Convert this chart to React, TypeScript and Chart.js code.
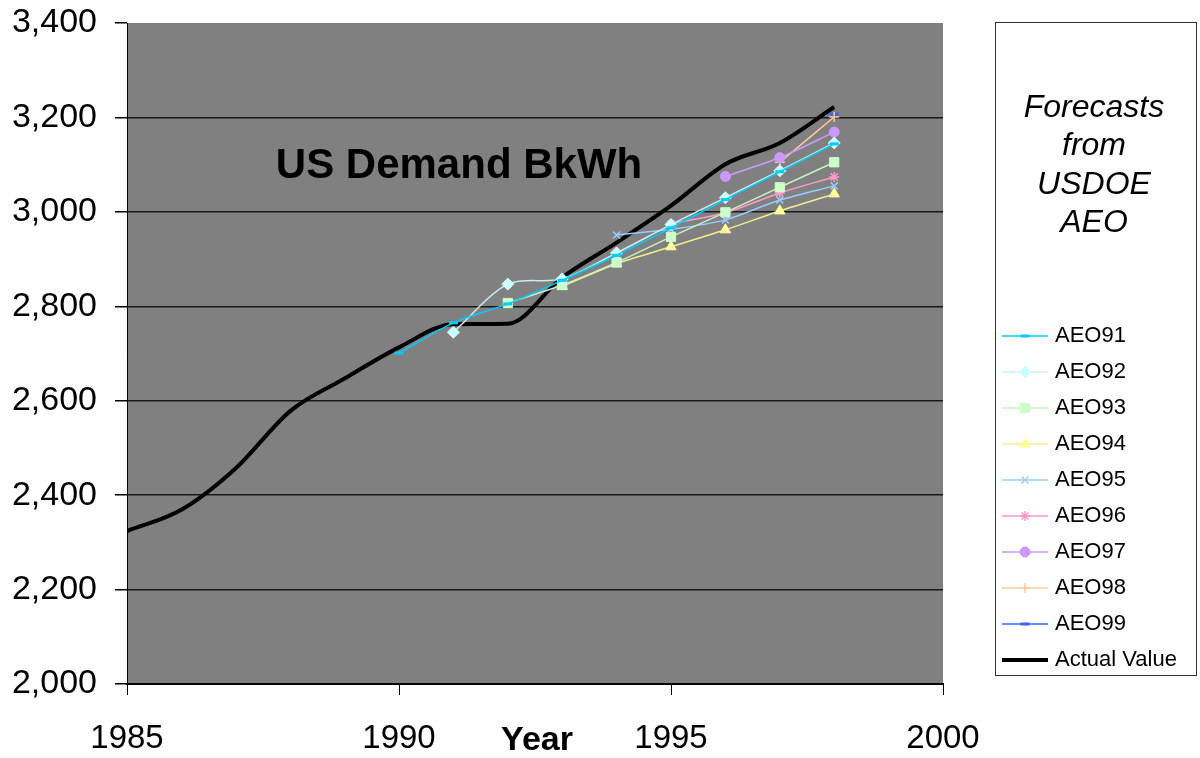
import React, { useEffect, useRef } from 'react';
import { Chart, registerables } from 'chart.js';
import { drawPoint } from 'chart.js/helpers';

Chart.register(...registerables);

const FONT = 'Arial, "Liberation Sans", sans-serif';

// ---- data ----
const actualYears = [1985, 1986, 1987, 1988, 1989, 1990, 1991, 1992, 1993, 1994, 1995, 1996, 1997, 1998];
const actualValues = [2324, 2369, 2457, 2578, 2647, 2713, 2762, 2763, 2861, 2935, 3013, 3101, 3146, 3222];

const forecastYears = [1990, 1991, 1992, 1993, 1994, 1995, 1996, 1997, 1998];
const aeo91 = [2701, 2765, 2805, 2855, 2908, 2966, 3026, 3085, 3144];
const aeo92 = [null, 2745, 2847, 2858, 2913, 2973, 3030, 3087, 3146];
const aeo93 = [null, null, 2807, 2845, 2893, 2947, 2999, 3052, 3105];
const aeo94 = [null, null, null, 2842, 2890, 2926, 2962, 3002, 3038];
const aeo95 = [null, null, null, null, 2951, 2963, 2983, 3025, 3055];
const aeo96 = [null, null, null, null, null, 2975, 2998, 3040, 3074];
const aeo97 = [null, null, null, null, null, null, 3075, 3115, 3169];
const aeo98 = [null, null, null, null, null, null, null, 3105, 3201];
const aeo99 = [null, null, null, null, null, null, null, null, 3207];

const seriesNames = ['AEO91', 'AEO92', 'AEO93', 'AEO94', 'AEO95', 'AEO96', 'AEO97', 'AEO98', 'AEO99'];
const seriesValues = [aeo91, aeo92, aeo93, aeo94, aeo95, aeo96, aeo97, aeo98, aeo99];
const actualLabel = 'Actual Value';

const yMin = 2000;
const yMax = 3400;
const yStep = 200;
const xMin = 1985;
const xMax = 2000;
const xStep = 5;

const chartTitle = 'US Demand BkWh';
const xAxisTitle = 'Year';
const legendTitleLines = ['Forecasts', 'from', 'USDOE', 'AEO'];

// ---- styles ----
const seriesColors = ['#00CCFF', '#CCFFFF', '#CCFFCC', '#FFFF99', '#99CCFF', '#FF99CC', '#CC99FF', '#FFCC99', '#3366FF'];
const seriesLineColors = ['#00CCFF', '#C8F0F0', '#C8F0C0', '#F0F090', '#99CCFF', '#FF99CC', '#CC99FF', '#FFCC99', '#3366FF'];
const seriesPointStyles = ['line', 'rectRot', 'rect', 'triangle', 'crossRot', 'star', 'circle', 'cross', 'line'];
const seriesPointRadius = [4.5, 6, 6.5, 6, 5, 5, 5, 5, 4.5];
const seriesPointBorder = [3, 1, 1, 1, 1.5, 1.5, 1, 1.5, 3];

const bgPlugin = {
  id: 'bgPlugin',
  beforeDraw(chart: any) {
    const { ctx, chartArea } = chart;
    ctx.save();
    ctx.fillStyle = '#ffffff';
    ctx.fillRect(0, 0, chart.width, chart.height);
    ctx.fillStyle = '#808080';
    ctx.fillRect(chartArea.left, chartArea.top, chartArea.right - chartArea.left, chartArea.bottom - chartArea.top);
    ctx.restore();
  },
};

const annotationPlugin = {
  id: 'annotationPlugin',
  afterDraw(chart: any) {
    const { ctx, chartArea } = chart;
    ctx.save();
    // chart title inside plot
    ctx.fillStyle = '#000';
    ctx.font = `bold 42px ${FONT}`;
    ctx.textAlign = 'center';
    ctx.textBaseline = 'alphabetic';
    ctx.fillText(chartTitle, 459, 178);

    // x axis title
    ctx.font = `bold 34px ${FONT}`;
    ctx.fillText(xAxisTitle, (chartArea.left + chartArea.right) / 2 + 2, 750);

    // legend box
    const bx = 995.5, by = 22.5, bw = 201, bh = 653;
    ctx.fillStyle = '#ffffff';
    ctx.fillRect(bx, by, bw, bh);
    ctx.strokeStyle = '#333333';
    ctx.lineWidth = 1;
    ctx.strokeRect(bx, by, bw, bh);

    ctx.fillStyle = '#000';
    ctx.font = `italic 32px ${FONT}`;
    ctx.textAlign = 'center';
    ctx.textBaseline = 'middle';
    legendTitleLines.forEach((t, i) => ctx.fillText(t, 1094, 108 + i * 38.5));

    chart.data.datasets.forEach((ds: any, i: number) => {
      const y = 336 + i * 36;
      ctx.strokeStyle = ds.borderColor;
      ctx.lineWidth = ds.borderWidth;
      ctx.beginPath();
      ctx.moveTo(1002, y);
      ctx.lineTo(1048, y);
      ctx.stroke();
      if (ds.pointRadius > 0) {
        ctx.fillStyle = ds.pointBackgroundColor;
        ctx.strokeStyle = ds.pointBorderColor;
        ctx.lineWidth = ds.pointBorderWidth;
        drawPoint(ctx, { pointStyle: ds.pointStyle, rotation: 0, radius: ds.pointRadius, borderWidth: ds.pointBorderWidth } as any, 1025, y);
      }
      ctx.fillStyle = '#000';
      ctx.font = `22px ${FONT}`;
      ctx.textAlign = 'left';
      ctx.textBaseline = 'middle';
      ctx.fillText(ds.label, 1055, y);
    });
    ctx.restore();
  },
};

export default function App() {
  const ref = useRef<HTMLCanvasElement>(null);

  useEffect(() => {
    const forecastSets = seriesNames.map((name, i) => ({
      label: name,
      data: forecastYears
        .map((x, j) => ({ x, y: seriesValues[i][j] }))
        .filter((p) => p.y !== null),
      borderColor: seriesLineColors[i],
      backgroundColor: seriesColors[i],
      borderWidth: 1.5,
      pointStyle: seriesPointStyles[i],
      pointRadius: seriesPointRadius[i],
      pointBackgroundColor: seriesColors[i],
      pointBorderColor: seriesColors[i],
      pointBorderWidth: seriesPointBorder[i],
      tension: 0.3,
      fill: false,
    }));
    const actualSet = {
      label: actualLabel,
      data: actualYears.map((x, j) => ({ x, y: actualValues[j] })),
      borderColor: '#000000',
      backgroundColor: '#000000',
      borderWidth: 4,
      pointRadius: 0,
      pointStyle: 'circle',
      pointBackgroundColor: '#000',
      pointBorderColor: '#000',
      pointBorderWidth: 0,
      cubicInterpolationMode: 'monotone',
      fill: false,
    };

    const chart = new Chart(ref.current as HTMLCanvasElement, {
      type: 'line',
      data: { datasets: [...forecastSets, actualSet] as any },
      plugins: [bgPlugin, annotationPlugin],
      options: {
        responsive: false,
        animation: false,
        devicePixelRatio: 1,
        layout: { padding: { left: 0, top: 23, right: 257, bottom: 0 } },
        plugins: {
          legend: { display: false },
          tooltip: { enabled: false },
          title: { display: false },
        },
        scales: {
          x: {
            type: 'linear',
            min: xMin,
            max: xMax,
            afterFit: (scale: any) => {
              scale.height = 74;
              scale.paddingLeft = 0;
              scale.paddingRight = 0;
            },
            ticks: {
              stepSize: xStep,
              color: '#000',
              font: { family: FONT, size: 33 },
              padding: 24,
              maxRotation: 0,
              callback: (v: any) => String(v),
            },
            grid: {
              drawOnChartArea: false,
              drawTicks: true,
              tickLength: 11,
              tickColor: '#000',
              color: '#000',
            },
            border: { display: true, color: '#000', width: 2 },
          },
          y: {
            type: 'linear',
            min: yMin,
            max: yMax,
            afterFit: (scale: any) => {
              scale.width = 127;
              scale.paddingTop = 0;
              scale.paddingBottom = 0;
            },
            ticks: {
              stepSize: yStep,
              color: '#000',
              font: { family: FONT, size: 34 },
              padding: 18,
              callback: (v: any) => Number(v).toLocaleString('en-US'),
            },
            grid: {
              drawTicks: true,
              tickLength: 12,
              tickColor: '#000',
              lineWidth: 1.5,
              color: (c: any) => (c.tick && c.tick.value === yMax ? 'rgba(0,0,0,0)' : '#1a1a1a'),
            },
            border: { display: true, color: '#000', width: 1 },
          },
        },
      } as any,
    });
    return () => chart.destroy();
  }, []);

  return (
    <div style={{ position: 'absolute', left: 0, top: 0, width: 1200, height: 758, background: '#fff' }}>
      <canvas ref={ref} width={1200} height={758} style={{ display: 'block', width: 1200, height: 758 }} />
    </div>
  );
}
